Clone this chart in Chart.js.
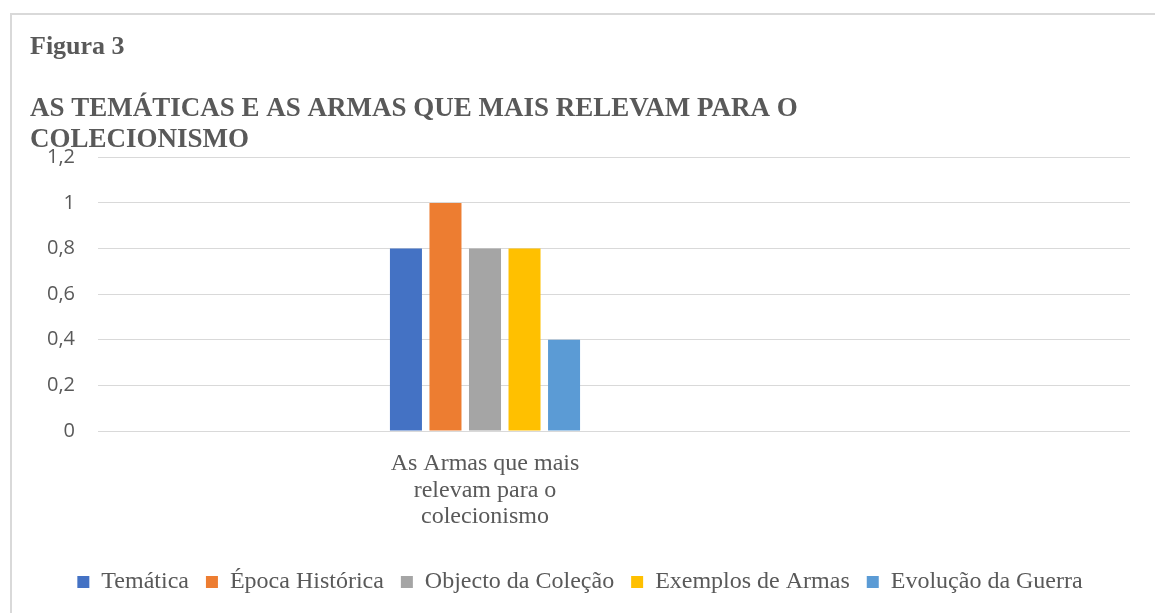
<!DOCTYPE html>
<html lang="pt">
<head>
<meta charset="utf-8">
<title>Figura 3</title>
<script src="https://cdn.jsdelivr.net/npm/chart.js@4.4.1/dist/chart.umd.min.js"></script>
<style>
    html, body { margin: 0; padding: 0; background: #ffffff; overflow: hidden; }
    #frame {
        position: absolute;
        left: 10px;
        top: 13px;
        width: 1143px;
        height: 600px;
        border-left: 2px solid #d9d9d9;
        border-top: 2px solid #d9d9d9;
    }
    #chart { display: block; }
</style>
</head>
<body>
<div id="frame">
    <canvas id="chart" width="1143" height="598"></canvas>
</div>
<script>
// --- DADOS ---
const categorias = [
    [''],
    ['As Armas que mais', 'relevam para o', 'colecionismo'],
    [''],
    ['']
];
const series = ['Temática', 'Época Histórica', 'Objecto da Coleção', 'Exemplos de Armas', 'Evolução da Guerra'];
const tematica = [null, 0.8, null, null];
const epocaHistorica = [null, 1.0, null, null];
const objectoColecao = [null, 0.8, null, null];
const exemplosArmas = [null, 0.8, null, null];
const evolucaoGuerra = [null, 0.4, null, null];
const yTicks = ['0', '0,2', '0,4', '0,6', '0,8', '1', '1,2'];

const cores = ['#4472C4', '#ED7D31', '#A5A5A5', '#FFC000', '#5B9BD5'];
const valores = [tematica, epocaHistorica, objectoColecao, exemplosArmas, evolucaoGuerra];

const txtCor = '#595959';
const serif = "'Liberation Serif', 'Times New Roman', serif";

const datasets = series.map((nome, i) => ({
    label: nome,
    data: valores[i],
    backgroundColor: cores[i],
    borderWidth: 0,
    categoryPercentage: 0.766,
    barPercentage: 0.81
}));

new Chart(document.getElementById('chart'), {
    type: 'bar',
    data: { labels: categorias, datasets: datasets },
    options: {
        responsive: false,
        animation: false,
        layout: { padding: { left: 18, right: 25, top: 0, bottom: 9 } },
        plugins: {
            title: {
                display: true,
                text: 'Figura 3',
                align: 'start',
                color: txtCor,
                font: { family: serif, size: 26, weight: 'bold', lineHeight: 1.2 },
                padding: { top: 17, bottom: 15 }
            },
            subtitle: {
                display: true,
                text: ['AS TEMÁTICAS E AS ARMAS QUE MAIS RELEVAM PARA O', 'COLECIONISMO'],
                align: 'start',
                color: txtCor,
                font: { family: serif, size: 27, weight: 'bold', lineHeight: 1.15 },
                padding: { top: 15, bottom: 2 }
            },
            legend: {
                position: 'bottom',
                labels: {
                    color: txtCor,
                    font: { family: serif, size: 24 },
                    boxWidth: 12,
                    boxHeight: 12,
                    padding: 17
                }
            },
            tooltip: { enabled: false }
        },
        scales: {
            x: {
                grid: { display: false },
                border: { display: false },
                ticks: {
                    color: txtCor,
                    font: { family: serif, size: 24, lineHeight: 1.1 },
                    padding: 12,
                    maxRotation: 0
                },
                afterFit: s => { s.height = 122; }
            },
            y: {
                min: 0,
                max: 1.2,
                grid: { color: '#d9d9d9', lineWidth: 1, drawTicks: false },
                border: { display: false },
                ticks: {
                    stepSize: 0.2,
                    color: txtCor,
                    font: { family: "'Open Sans', sans-serif", size: 20 },
                    padding: 23,
                    callback: (v, i) => yTicks[i]
                },
                afterFit: s => { s.width = 68; }
            }
        }
    }
});
</script>
</body>
</html>
